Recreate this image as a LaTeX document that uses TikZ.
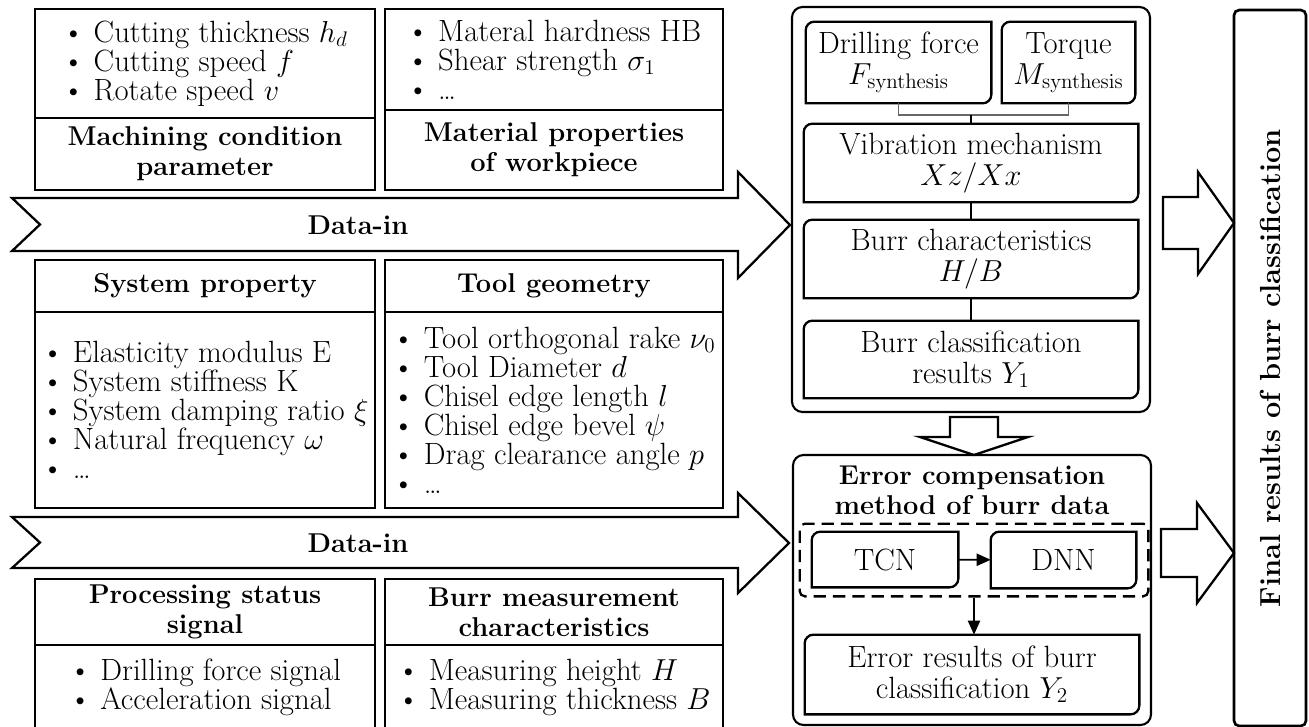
\documentclass[tikz,border=0pt]{standalone}
\usetikzlibrary{arrows.meta,positioning,fit}

\newlength{\px}
\setlength{\px}{0.02cm}

% box with rounded top-left and bottom-right corners
\newcommand{\cornerbox}[1]{%
  \draw[inbox] (#1.north east) -- ([yshift=5pt]#1.south east)
    arc[start angle=0,end angle=-90,radius=5pt] -- (#1.south west)
    -- ([yshift=-5pt]#1.north west)
    arc[start angle=180,end angle=90,radius=5pt] -- cycle;}

\begin{document}
\begin{tikzpicture}[x=0.02cm,y=-0.02cm,>={Triangle[length=8pt,width=7pt]},
every node/.style={font=\fontsize{17.5}{16.5}\selectfont},
cell/.style={draw,line width=1.5pt,inner sep=0pt,align=left},
head/.style={draw,line width=1.5pt,inner sep=0pt,align=center,font=\fontsize{15.5}{17}\selectfont\bfseries},
blk/.style={inner sep=0pt,align=center,font=\fontsize{17.5}{17.5}\selectfont},
inbox/.style={line width=1.3pt},
outer/.style={draw,line width=1.2pt,rounded corners=6pt},
hollow/.style={draw,line width=1.3pt,fill=white,line join=miter},
link/.style={line width=0.9pt}]
\useasboundingbox (0,0) rectangle (1309,727);

% inputs, first row
\node[cell,minimum width=340\px,minimum height=109\px] (mcpL) at (205,63.5)
  {\textbullet\ Cutting thickness $h_d$\\ \textbullet\ Cutting speed $f$\\ \textbullet\ Rotate speed $v$};
\node[head,minimum width=340\px,minimum height=72\px] (mcpH) at (205,154) {Machining condition\\parameter};
\node[cell,minimum width=338\px,minimum height=101\px] (matL) at (554,59.5)
  {\textbullet\ Materal hardness HB\\ \textbullet\ Shear strength $\sigma_1$\\ \textbullet\ \dots};
\node[head,minimum width=338\px,minimum height=80\px] (matH) at (554,150) {Material properties\\of workpiece};

% inputs, second row
\node[head,minimum width=340\px,minimum height=52\px] (sysH) at (205,286) {System property};
\node[cell,minimum width=340\px,minimum height=196\px] (sysL) at (205,410)
  {\textbullet\ Elasticity modulus E\\ \textbullet\ System stiffness K\\ \textbullet\ System damping ratio $\xi$\\
   \textbullet\ Natural frequency $\omega$\\ \textbullet\ \dots};
\node[head,minimum width=338\px,minimum height=52\px] (toolH) at (554,286) {Tool geometry};
\node[cell,minimum width=338\px,minimum height=196\px] (toolL) at (554,410)
  {\textbullet\ Tool orthogonal rake $\nu_0$\\ \textbullet\ Tool Diameter $d$\\ \textbullet\ Chisel edge length $l$\\
   \textbullet\ Chisel edge bevel $\psi$\\ \textbullet\ Drag clearance angle $p$\\ \textbullet\ \dots};

% inputs, third row
\node[head,minimum width=340\px,minimum height=66\px] (procH) at (205,612) {Processing status\\signal};
\node[cell,minimum width=340\px,minimum height=85\px] (procL) at (205,687.5)
  {\textbullet\ Drilling force signal\\ \textbullet\ Acceleration signal};
\node[head,minimum width=338\px,minimum height=66\px] (measH) at (554,612) {Burr measurement\\characteristics};
\node[cell,minimum width=338\px,minimum height=85\px] (measL) at (554,687.5)
  {\textbullet\ Measuring height $H$\\ \textbullet\ Measuring thickness $B$};

% data-in arrows
\draw[hollow] (12,198) -- (738,198) -- (738,172) -- (790,225) -- (738,278) -- (738,251) -- (12,251) -- (40,224.5) -- cycle;
\node[font=\fontsize{15.5}{16}\selectfont\bfseries] (din1) at (358,225) {Data-in};
\draw[hollow] (12,517) -- (738,517) -- (738,493) -- (789,543) -- (738,593) -- (738,568) -- (12,568) -- (40,542.5) -- cycle;
\node[font=\fontsize{15.5}{16}\selectfont\bfseries] (din2) at (358,543) {Data-in};

% mechanism model
\node[outer,minimum width=358\px,minimum height=405\px] (mech) at (971,209.5) {};
\node[blk,minimum width=185\px,minimum height=81\px] (drill) at (898.5,62.5) {Drilling force\\$F_{\mathrm{synthesis}}$};
\cornerbox{drill}
\node[blk,minimum width=133\px,minimum height=81\px] (torque) at (1068.5,62.5) {Torque\\$M_{\mathrm{synthesis}}$};
\cornerbox{torque}
\node[blk,minimum width=334\px,minimum height=78\px] (vib) at (971,163) {Vibration mechanism\\$Xz/Xx$};
\cornerbox{vib}
\node[blk,minimum width=334\px,minimum height=78\px] (burr) at (971,259) {Burr characteristics\\$H/B$};
\cornerbox{burr}
\node[blk,minimum width=334\px,minimum height=77\px] (cls) at (971,359.5) {Burr classification\\results $Y_1$};
\cornerbox{cls}
\coordinate (fork) at (971,115);
\draw[link,black!60] (drill.south) |- (fork) -| (torque.south);
\draw[link] (fork) -- (vib.north);
\draw[link] (vib.south) -- (burr.north);
\draw[link] (burr.south) -- (cls.north);

% hollow arrow down
\draw[hollow] (950,417) -- (998,417) -- (998,437) -- (1028,437) -- (974,455) -- (920,437) -- (950,437) -- cycle;

% error compensation
\node[outer,minimum width=358\px,minimum height=270\px] (comp) at (972,590) {};
\node[blk,font=\fontsize{15.5}{17}\selectfont\bfseries] (compT) at (972,490) {Error compensation\\method of burr data};
\node[blk,minimum width=146\px,minimum height=55\px] (tcn) at (885,559.5) {TCN};
\cornerbox{tcn}
\node[blk,minimum width=145\px,minimum height=56\px] (dnn) at (1063.5,560) {DNN};
\cornerbox{dnn}
\node[draw,line width=1.3pt,dash pattern=on 7pt off 4pt,rounded corners=3pt,
  fit=(tcn)(dnn),inner xsep=12\px,inner ysep=8\px] (grp) {};
\draw[link,->] (tcn) -- (dnn);
\node[blk,minimum width=334\px,minimum height=79\px] (err) at (972,674.5) {Error results of burr\\classification $Y_2$};
\cornerbox{err}
\draw[link,->] (grp.south) -- (grp.south |- err.north);

% result
\node[draw,line width=1.5pt,rounded corners=3pt,rotate=90,minimum width=716\px,minimum height=72\px,
  font=\fontsize{16.5}{17}\selectfont\bfseries] (final) at (1270,368) {Final results of burr classification};
\draw[hollow] (1163,197) -- (1198,197) -- (1198,172) -- (1234,223) -- (1198,274) -- (1198,249) -- (1163,249) -- cycle;
\draw[hollow] (1161,529) -- (1197,529) -- (1197,503) -- (1234,553) -- (1197,603) -- (1197,577) -- (1161,577) -- cycle;
\end{tikzpicture}
\end{document}
